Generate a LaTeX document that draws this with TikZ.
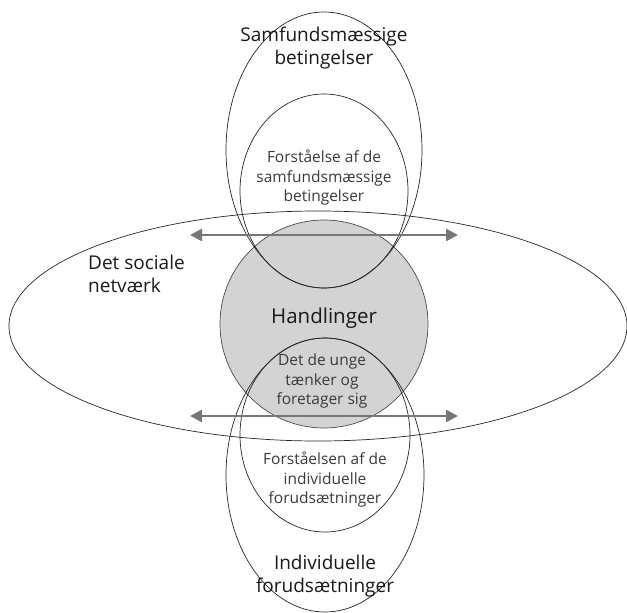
\documentclass[tikz,border=0pt]{standalone}
\usepackage{fontspec}
\setmainfont{Open Sans}
\usetikzlibrary{arrows.meta}
\definecolor{circfill}{HTML}{D3D3D3}
\definecolor{arrowgray}{HTML}{777777}
\definecolor{smalltext}{HTML}{3A3A3A}
\begin{document}
\begin{tikzpicture}[x=1pt,y=-1pt,
  outline/.style={draw=black!85,line width=0.7pt},
  biglabel/.style={align=center,font=\fontsize{19}{23.5}\selectfont,text=black!90,inner sep=0pt},
  smalllabel/.style={align=center,font=\fontsize{15.5}{19.5}\selectfont,text=smalltext,inner sep=0pt},
  twoway/.style={draw=arrowgray,line width=2.6pt,{Triangle[length=12pt,width=12pt]}-{Triangle[length=12pt,width=12pt]}}
]
\useasboundingbox (0,0) rectangle (627,613);
% central circle
\fill[circfill] (324,324) circle (104);
\draw[outline,draw=black!70] (324,324) circle (104);
% big horizontal ellipse
\draw[outline] (318,326) ellipse (309 and 115);
% top ellipses
\draw[outline] (324,150) ellipse (98 and 138);
\draw[outline] (324,191) ellipse (84 and 97);
% bottom ellipses
\draw[outline] (325,475) ellipse (99 and 137);
\draw[outline] (325,435) ellipse (85 and 97);
% arrows
\coordinate (a1l) at (190,235);
\coordinate (a1r) at (458,235);
\coordinate (a2l) at (190,416);
\coordinate (a2r) at (458,416);
\draw[twoway] (a1l) -- (a1r);
\draw[twoway] (a2l) -- (a2r);
% labels
\node[biglabel] (samf) at (324,48) {Samfundsmæssige\\betingelser};
\node[smalllabel] (forst1) at (324,178) {Forståelse af de\\samfundsmæssige\\betingelser};
\node[biglabel,align=left,anchor=west] (social) at (88,274) {Det sociale\\netværk};
\node[biglabel,font=\fontsize{20.5}{24}\selectfont] (handl) at (324,318) {Handlinger};
\node[smalllabel] (unge) at (322,381) {Det de unge\\tænker og\\foretager sig};
\node[smalllabel] (forst2) at (325,480) {Forståelsen af de\\individuelle\\forudsætninger};
\node[biglabel] (indiv) at (325,576) {Individuelle\\forudsætninger};
\end{tikzpicture}
\end{document}
